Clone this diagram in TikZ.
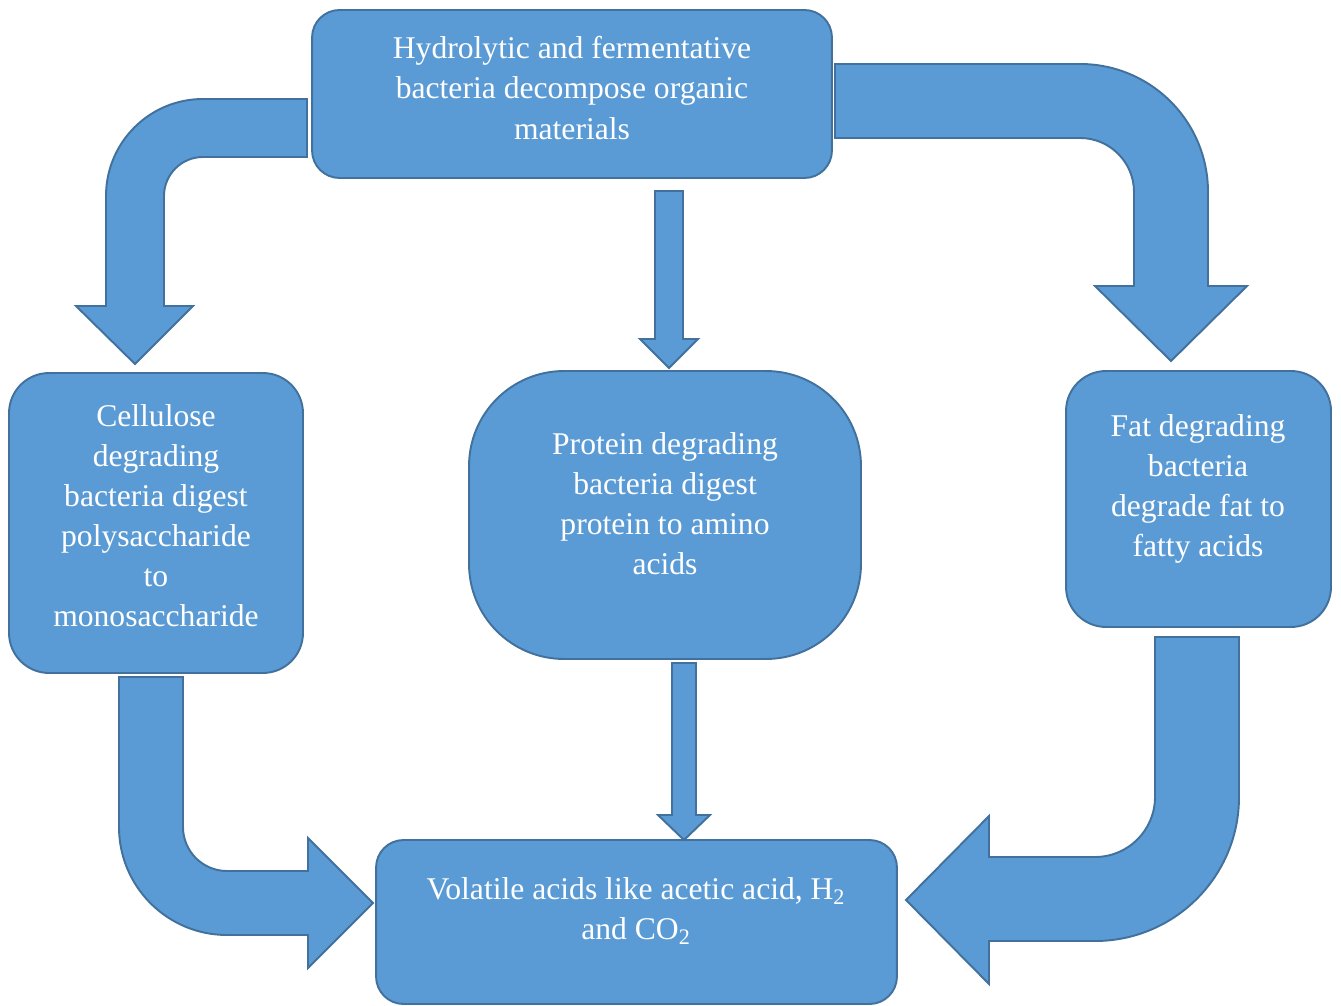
\documentclass[tikz,border=0pt]{standalone}
\usepackage{fontspec}
\setmainfont{Liberation Serif}
\usepackage{tikz}
\usepackage{xcolor}

\definecolor{boxfill}{HTML}{5B9BD5}
\definecolor{boxline}{HTML}{41719C}
\newcommand{\stagefont}{\fontsize{18}{22.8}\selectfont}

\tikzset{
    stage/.style={draw=boxline, fill=boxfill, line width=1.1pt, inner sep=0pt, outer sep=0pt},
    stagetext/.style={text=white, align=center, font=\stagefont, inner sep=0pt},
    blockarrow/.style={draw=boxline, fill=boxfill, line width=1.1pt, line join=miter}
}

\begin{document}
\begin{tikzpicture}[x=0.02cm, y=0.02cm]
    % page size
    \useasboundingbox (0,0) rectangle (1341,-1006);

    % Boxes for the stages
    \node[stage, minimum width=10.4cm, minimum height=3.36cm, rounded corners=0.55cm] (hydro) at (572,-94) {};
    \node[stage, minimum width=5.88cm, minimum height=6cm, rounded corners=0.8cm] (cellulose) at (156,-523) {};
    \node[stage, minimum width=7.84cm, minimum height=5.76cm, rounded corners=1.9cm] (protein) at (665,-515) {};
    \node[stage, minimum width=5.3cm, minimum height=5.12cm, rounded corners=0.8cm] (fat) at (1198.5,-499) {};
    \node[stage, minimum width=10.42cm, minimum height=3.28cm, rounded corners=0.55cm] (volatile) at (636.5,-922) {};

    % Texts
    \node[stagetext] (hydro text) at (572,-88) {Hydrolytic and fermentative\\bacteria decompose organic\\materials};
    \node[stagetext] (cellulose text) at (156,-516) {Cellulose\\degrading\\bacteria digest\\polysaccharide\\to\\monosaccharide};
    \node[stagetext] (protein text) at (665,-504) {Protein degrading\\bacteria digest\\protein to amino\\acids};
    \node[stagetext] (fat text) at (1198,-489) {Fat degrading\\bacteria\\degrade fat to\\fatty acids};
    \node[stagetext] (volatile text) at (636,-911) {Volatile acids like acetic acid, H\textsubscript{2}\\and CO\textsubscript{2}};

    % Left bent arrow
    \draw[blockarrow] (307,-99) -- (203,-99) arc[start angle=90, end angle=180, radius=97]
        -- (106,-306) -- (76,-306) -- (135,-364) -- (193,-306) -- (164,-306) -- (164,-196)
        arc[start angle=180, end angle=90, radius=39] -- (307,-157) -- cycle;
    % Right bent arrow
    \draw[blockarrow] (835,-64) -- (1080,-64) arc[start angle=90, end angle=0, radius=128]
        -- (1208,-286) -- (1247,-286) -- (1171,-361) -- (1095,-286) -- (1134,-286) -- (1134,-192)
        arc[start angle=0, end angle=90, radius=54] -- (835,-138) -- cycle;
    % Middle arrows
    \draw[blockarrow] (655,-191) -- (683,-191) -- (683,-339) -- (698,-339) -- (669,-368)
        -- (640,-339) -- (655,-339) -- cycle;
    \draw[blockarrow] (672,-663) -- (696,-663) -- (696,-815) -- (710,-815) -- (684,-840)
        -- (658,-815) -- (672,-815) -- cycle;
    % Lower left arrow
    \draw[blockarrow] (119,-677) -- (119,-827) arc[start angle=180, end angle=270, radius=108]
        -- (308,-935) -- (308,-968) -- (373,-903) -- (308,-838) -- (308,-871) -- (227,-871)
        arc[start angle=270, end angle=180, radius=44] -- (183,-677) -- cycle;
    % Lower right arrow
    \draw[blockarrow] (1239,-637) -- (1239,-797) arc[start angle=0, end angle=-90, radius=144]
        -- (989,-941) -- (989,-984) -- (906,-900) -- (989,-816) -- (989,-857) -- (1095,-857)
        arc[start angle=-90, end angle=0, radius=60] -- (1155,-637) -- cycle;
\end{tikzpicture}
\end{document}
